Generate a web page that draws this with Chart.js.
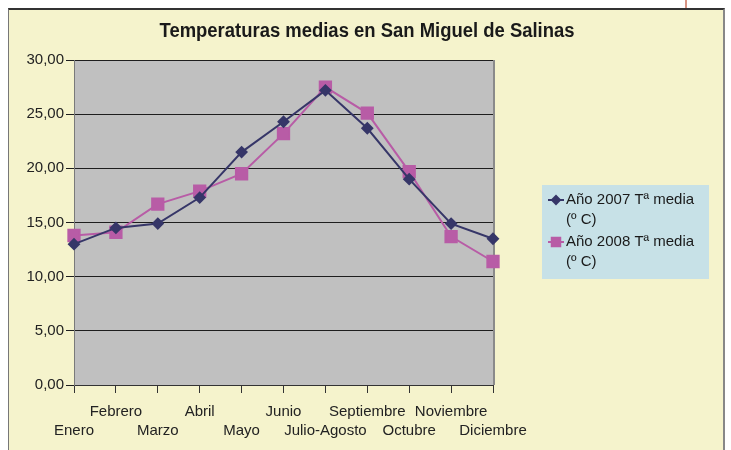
<!DOCTYPE html>
<html>
<head>
<meta charset="utf-8">
<script src="https://cdn.jsdelivr.net/npm/chart.js@4.4.0/dist/chart.umd.min.js"></script>
<style>
  body { margin: 0; background: #ffffff; }
  #marco {
    position: absolute; left: 8px; top: 8px; width: 714px; height: 450px;
    background: #f5f3cc; border-left: 1px solid #777; border-top: 2px solid #333; border-right: 2px solid #888;
  }
  #hilo { position: absolute; left: 685px; top: 0; width: 2px; height: 8px; background: #d89484; }
  #wrap { position: absolute; left: 0; top: 0; width: 731px; height: 450px; }
</style>
</head>
<body>
<div id="hilo"></div>
<div id="marco"></div>
<div id="wrap"><canvas id="grafico" width="731" height="450"></canvas></div>
<script>
const titulo = 'Temperaturas medias en San Miguel de Salinas';
const meses = ['Enero', 'Febrero', 'Marzo', 'Abril', 'Mayo', 'Junio', 'Julio-Agosto',
  'Septiembre', 'Octubre', 'Noviembre', 'Diciembre'];
const serie2007 = [13.0, 14.5, 14.9, 17.3, 21.5, 24.3, 27.2, 23.7, 19.0, 14.9, 13.5];
const serie2008 = [13.8, 14.1, 16.7, 17.9, 19.5, 23.2, 27.5, 25.1, 19.7, 13.7, 11.4];
const nombres = ['Año 2007 Tª media (º C)', 'Año 2008 Tª media (º C)'];
const yTicks = [0, 5, 10, 15, 20, 25, 30];

const fuente = "'Liberation Sans', Arial, sans-serif";

// fondo gris del area de trazado + borde derecho
const fondoPlot = {
  id: 'fondoPlot',
  beforeDraw(chart) {
    const { ctx, chartArea: a } = chart;
    ctx.save();
    ctx.fillStyle = '#c0c0c0';
    ctx.fillRect(a.left, a.top, a.right - a.left, a.bottom - a.top);
    ctx.strokeStyle = '#8a8a8a';
    ctx.lineWidth = 2;
    ctx.beginPath();
    ctx.moveTo(a.right + 1, a.top);
    ctx.lineTo(a.right + 1, a.bottom);
    ctx.stroke();
    ctx.restore();
  }
};

// titulo y leyenda dibujados a mano
const extras = {
  id: 'extras',
  afterDraw(chart) {
    const ctx = chart.ctx;
    ctx.save();
    ctx.fillStyle = '#1a1a1a';
    ctx.font = 'bold 20px ' + fuente;
    ctx.textAlign = 'center';
    ctx.textBaseline = 'middle';
    // el original usa una letra estrecha: se comprime en horizontal
    const ancho = ctx.measureText(titulo).width;
    const esc = Math.min(1, 415 / ancho);
    ctx.translate(367, 31);
    ctx.scale(esc, 1);
    ctx.fillText(titulo, 0, 0);
    ctx.restore();

    // leyenda
    ctx.save();
    ctx.fillStyle = '#c7e1e7';
    ctx.fillRect(542, 185, 167, 94);
    ctx.font = '15px ' + fuente;
    ctx.textAlign = 'left';
    ctx.textBaseline = 'middle';
    chart.data.datasets.forEach((ds, i) => {
      const y = 200 + i * 42;
      ctx.strokeStyle = ds.borderColor;
      ctx.lineWidth = 2;
      ctx.beginPath();
      ctx.moveTo(548, y);
      ctx.lineTo(564, y);
      ctx.stroke();
      ctx.beginPath();
      Chart.helpers.drawPoint(ctx, {
        pointStyle: ds.pointStyle, radius: ds.pointStyle === 'rect' ? 6 : 4, borderWidth: 1
      }, 556, y);
      ctx.fillStyle = ds.pointBackgroundColor;
      ctx.fill();
      const partes = ds.label.split(' (');
      ctx.fillStyle = '#1a1a1a';
      ctx.fillText(partes[0], 566, y);
      ctx.fillText('(' + partes[1], 566, y + 20);
    });
    ctx.restore();
  }
};

new Chart(document.getElementById('grafico'), {
  type: 'line',
  data: {
    labels: meses,
    datasets: [
      {
        label: nombres[0],
        data: serie2007,
        borderColor: '#363668',
        backgroundColor: '#363668',
        pointBackgroundColor: '#363668',
        pointBorderColor: '#363668',
        pointStyle: 'rectRot',
        pointRadius: 5,
        borderWidth: 2,
        tension: 0
      },
      {
        label: nombres[1],
        data: serie2008,
        borderColor: '#b85ca6',
        backgroundColor: '#b85ca6',
        pointBackgroundColor: '#b85ca6',
        pointBorderColor: '#b85ca6',
        pointStyle: 'rect',
        pointRadius: 8,
        borderWidth: 2,
        tension: 0
      }
    ]
  },
  options: {
    responsive: false,
    animation: false,
    layout: { padding: { left: 0, top: 60, right: 238, bottom: 5 } },
    plugins: {
      legend: { display: false },
      title: { display: false },
      tooltip: { enabled: false }
    },
    scales: {
      x: {
        offset: false,
        afterFit(s) { s.height = 60; },
        grid: { drawOnChartArea: false, drawTicks: true, tickLength: 8, color: '#333', lineWidth: 1 },
        border: { color: '#333', width: 1 },
        ticks: {
          color: '#222',
          font: { family: fuente, size: 15, lineHeight: 1.27 },
          padding: 9,
          maxRotation: 0,
          autoSkip: false,
          callback(v, i) {
            return i % 2 === 0 ? ['', meses[i]] : [meses[i], ''];
          }
        }
      },
      y: {
        min: 0,
        max: 30,
        afterFit(s) { s.width = 74; },
        afterBuildTicks(s) { s.ticks = yTicks.map(v => ({ value: v })); },
        grid: { color: '#1e1e1e', lineWidth: 1, drawTicks: true, tickLength: 8 },
        border: { color: '#7a7a7a', width: 1 },
        ticks: {
          color: '#222',
          font: { family: fuente, size: 15 },
          padding: 2,
          callback(v) { return v.toFixed(2).replace('.', ','); }
        }
      }
    }
  },
  plugins: [fondoPlot, extras]
});
</script>
</body>
</html>
